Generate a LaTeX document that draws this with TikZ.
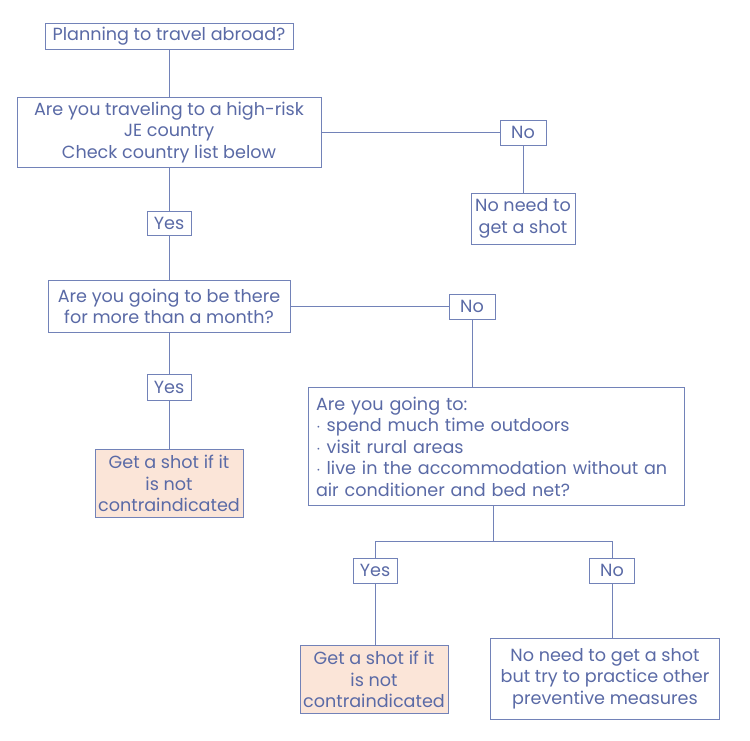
\documentclass[tikz,border=0pt]{standalone}
\usepackage{fontspec}
\setmainfont{Poppins}
\definecolor{ink}{HTML}{5A6AA6}
\definecolor{edge}{HTML}{7282B8}
\definecolor{peach}{HTML}{FBE5D8}
\begin{document}
\begin{tikzpicture}[x=1pt,y=-1pt,
  box/.style={draw=edge,line width=0.9pt,text=ink,inner sep=0pt,align=center,
    font=\fontsize{17.6}{21.5}\selectfont},
  lbl/.style={box},
  shot/.style={box,fill=peach},
  conn/.style={draw=edge,line width=0.9pt}]
\useasboundingbox (0,0) rectangle (750,740);
\fill[white] (0,0) rectangle (750,740);
\node[box,minimum width=248pt,minimum height=26pt] (plan) at (169,36.5) {Planning to travel abroad?};
\node[box,minimum width=304pt,minimum height=70pt] (risk) at (169,132.5) {Are you traveling to a high-risk\\JE country\\Check country list below};
\node[lbl,minimum width=46pt,minimum height=25pt] (no1) at (523,132.5) {No};
\node[box,minimum width=104pt,minimum height=51pt] (noneed) at (523,218.5) {No need to\\get a shot};
\node[lbl,minimum width=44pt,minimum height=24pt] (yes1) at (169,223.5) {Yes};
\node[box,minimum width=242pt,minimum height=52pt] (month) at (169,306.5) {Are you going to be there\\for more than a month?};
\node[lbl,minimum width=46pt,minimum height=25pt] (no2) at (472,306.5) {No};
\node[lbl,minimum width=44pt,minimum height=26pt] (yes2) at (169,387.5) {Yes};
\node[shot,minimum width=148pt,minimum height=68pt] (shot1) at (169,483.5) {Get a shot if it\\is not\\contraindicated};
\node[box,minimum width=376pt,minimum height=118pt,align=left,text width=360pt] (going) at (496,446.5) {Are you going to:\\$\cdot$ spend much time outdoors\\$\cdot$ visit rural areas\\$\cdot$ live in the accommodation without an\\air conditioner and bed net?};
\coordinate (split) at (493,541);
\node[lbl,minimum width=44pt,minimum height=25pt] (yes3) at (375,570.5) {Yes};
\node[lbl,minimum width=45pt,minimum height=25pt] (no3) at (612,570.5) {No};
\node[shot,minimum width=148pt,minimum height=68pt] (shot2) at (374,679.5) {Get a shot if it\\is not\\contraindicated};
\node[box,minimum width=229pt,minimum height=81pt] (final) at (605,678.5) {No need to get a shot\\but try to practice other\\preventive measures};
\draw[conn] (plan) -- (risk);
\draw[conn] (risk.east |- no1) -- (no1);
\draw[conn] (no1) -- (noneed);
\draw[conn] (risk) -- (yes1);
\draw[conn] (yes1) -- (month);
\draw[conn] (month.east |- no2) -- (no2);
\draw[conn] (no2) -- (no2 |- going.north);
\draw[conn] (month) -- (yes2);
\draw[conn] (yes2) -- (shot1);
\draw[conn] (split |- going.south) -- (split);
\draw[conn] (split) -| (yes3);
\draw[conn] (split) -| (no3);
\draw[conn] (yes3) -- (yes3 |- shot2.north);
\draw[conn] (no3) -- (no3 |- final.north);
\end{tikzpicture}
\end{document}
